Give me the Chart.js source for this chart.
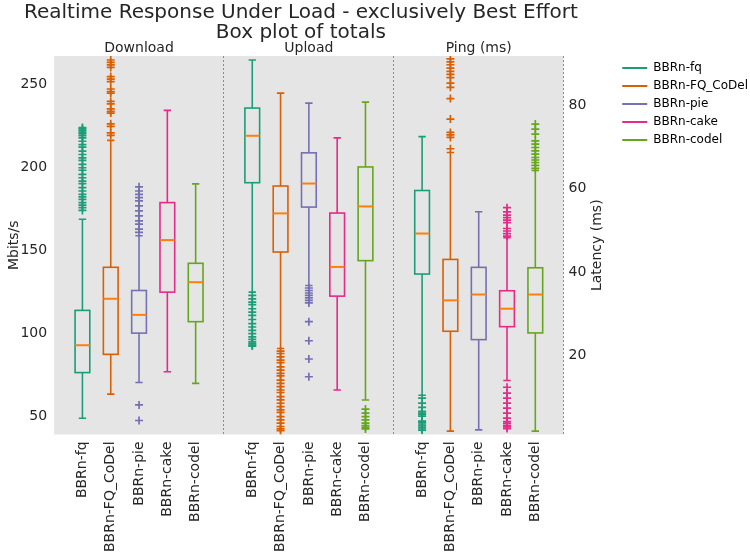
<!DOCTYPE html>
<html>
<head>
<meta charset="utf-8">
<script src="https://cdn.jsdelivr.net/npm/chart.js@4"></script>
<style>
  html, body { margin: 0; padding: 0; background: #fff; }
  #wrap { width: 750px; height: 553px; }
</style>
</head>
<body>
<div id="wrap"><canvas id="boxChart"></canvas></div>
<script>
const titleLines = ['Realtime Response Under Load - exclusively Best Effort', 'Box plot of totals'];
const schedulers = ['BBRn-fq', 'BBRn-FQ_CoDel', 'BBRn-pie', 'BBRn-cake', 'BBRn-codel'];
const panelTitles = ['Download', 'Upload', 'Ping (ms)'];

// box stats per scheduler: [low whisker, Q1, median, Q3, high whisker]
const downloadBoxes = [
  [49, 76.5, 93, 114, 169],
  [63.5, 87.5, 121, 140, 216.5],
  [70.5, 100.3, 111.3, 126, 159],
  [77, 125, 156.4, 179, 234.6],
  [70, 107.2, 131, 142.4, 190.3]
];
const uploadBoxes = [
  [125, 191, 219.3, 236, 265],
  [91, 149.2, 172.5, 189, 245],
  [129, 176.3, 190.5, 209, 239],
  [66, 122.6, 140.2, 172.7, 218],
  [60, 144, 176.7, 200.5, 239.6]
];
const pingBoxes = [
  [10.5, 39.5, 49.2, 59.5, 72.4],
  [1.9, 25.8, 33.2, 43, 68.6],
  [2.2, 23.8, 34.6, 41.1, 54.4],
  [14, 26.9, 31.2, 35.5, 48.2],
  [1.9, 25.4, 34.6, 41, 64.3]
];

// fliers
const downloadOutliers = [
  [174.3, 176, 177.5, 179, 181, 182.5, 184, 186, 188, 190.5, 192, 194, 196, 198.5, 200, 202, 204.5, 206, 208, 210, 212.5, 214, 216, 218, 219.3, 220.5, 221.5, 222.5, 223.5, 224.3],
  [219.5, 221, 225, 226.5, 233, 234, 235.5, 238.5, 240, 245, 246, 247.5, 252, 253.5, 255, 260.5, 262, 263.5, 265],
  [47.6, 57, 161, 163, 166, 168, 171, 174, 177, 180, 182, 184, 186, 188.5],
  [],
  []
];
const uploadOutliers = [
  [123, 121, 119, 117.5, 115, 113, 111, 108.5, 106, 104, 102, 100, 98, 96.5, 95, 94, 93, 92.5],
  [89.5, 88, 86, 84, 82.5, 80, 78, 76, 74.5, 72, 70, 68, 66, 64.5, 62, 60, 58, 56, 54, 52.5, 50, 48, 46, 44, 42.5, 41.5],
  [127.5, 126, 124.5, 123, 121.5, 120, 118.5, 107.2, 95.7, 84.7, 74],
  [],
  [54.5, 52, 50, 48, 46, 44.5, 43.5, 42.5]
];
const pingOutliers = [
  [9.8, 8.6, 7.6, 6.6, 6.2, 5.9, 5.5, 4.3, 4, 3.6, 3.2, 2.8, 2.4, 2.1],
  [69.5, 72.2, 72.8, 73.4, 76.6, 81.5, 84.2, 85.2, 86.5, 87.3, 88, 88.8, 89.6, 90.3, 91],
  [],
  [48.6, 49.2, 49.8, 50.4, 51.8, 52.4, 53, 53.6, 54.4, 55.4, 12.4, 11, 9.8, 8.6, 7.4, 6.2, 5, 4.2, 3.8, 3.3, 2.9, 2.5],
  [64.8, 65.5, 66.2, 66.8, 67.4, 68.2, 69, 69.8, 70.6, 71.4, 73, 74.2, 75.4]
];

const mbitTicks = [50, 100, 150, 200, 250];
const latencyTicks = [20, 40, 60, 80];

const colors = ['#1b9e77', '#d95f02', '#7570b3', '#e7298a', '#66a61e'];
const medianColor = '#ff7f0e';
const textColor = '#262626';

const panels = [
  { boxes: downloadBoxes, outliers: downloadOutliers, axis: 'y' },
  { boxes: uploadBoxes, outliers: uploadOutliers, axis: 'y' },
  { boxes: pingBoxes, outliers: pingOutliers, axis: 'y2' }
];
const slot = schedulers.length + 1;
const posOf = (p, i) => p * slot + i + 1;
const boxHalf = 0.26;
const titleFont = { family: 'DejaVu Sans', size: 20, weight: 'normal', lineHeight: 1.0 };
const titlePadding = { top: 3, bottom: 13 };

const datasets = [];
panels.forEach((panel, p) => {
  panel.outliers.forEach((vals, i) => {
    datasets.push({
      label: schedulers[i],
      yAxisID: panel.axis,
      data: vals.map(v => ({ x: posOf(p, i), y: v })),
      pointStyle: 'cross',
      pointRadius: 4,
      pointBorderWidth: 1.7,
      borderColor: colors[i],
      backgroundColor: colors[i]
    });
  });
});

const panelBackground = {
  id: 'panelBackground',
  beforeDraw(chart) {
    const { ctx, chartArea: a, scales: { x } } = chart;
    ctx.save();
    ctx.fillStyle = '#e5e5e5';
    ctx.fillRect(a.left, a.top, a.right - a.left, a.bottom - a.top);
    ctx.strokeStyle = '#8c8c8c';
    ctx.lineWidth = 1;
    ctx.setLineDash([2, 2]);
    for (let p = 1; p <= panels.length; p++) {
      const px = Math.round(x.getPixelForValue(p * slot)) - 0.5;
      ctx.beginPath();
      ctx.moveTo(px, a.top);
      ctx.lineTo(px, a.bottom);
      ctx.stroke();
    }
    ctx.restore();
  }
};

const boxes = {
  id: 'boxes',
  beforeDatasetsDraw(chart) {
    const { ctx, scales: { x } } = chart;
    ctx.save();
    panels.forEach((panel, p) => {
      const y = chart.scales[panel.axis];
      panel.boxes.forEach(([lo, q1, med, q3, hi], i) => {
        const c = x.getPixelForValue(posOf(p, i));
        const l = x.getPixelForValue(posOf(p, i) - boxHalf);
        const r = x.getPixelForValue(posOf(p, i) + boxHalf);
        const cl = x.getPixelForValue(posOf(p, i) - boxHalf / 2);
        const cr = x.getPixelForValue(posOf(p, i) + boxHalf / 2);
        const yLo = y.getPixelForValue(lo), yQ1 = y.getPixelForValue(q1);
        const yMed = y.getPixelForValue(med), yQ3 = y.getPixelForValue(q3);
        const yHi = y.getPixelForValue(hi);
        ctx.strokeStyle = colors[i];
        ctx.lineWidth = 1.6;
        ctx.beginPath();
        ctx.moveTo(c, yQ1); ctx.lineTo(c, yLo);
        ctx.moveTo(c, yQ3); ctx.lineTo(c, yHi);
        ctx.moveTo(cl, yLo); ctx.lineTo(cr, yLo);
        ctx.moveTo(cl, yHi); ctx.lineTo(cr, yHi);
        ctx.stroke();
        ctx.strokeRect(l, yQ3, r - l, yQ1 - yQ3);
        ctx.strokeStyle = medianColor;
        ctx.lineWidth = 2;
        ctx.beginPath();
        ctx.moveTo(l, yMed); ctx.lineTo(r, yMed);
        ctx.stroke();
      });
    });
    ctx.restore();
  },
  afterDraw(chart) {
    const { ctx, chartArea: a, scales: { x, y2 } } = chart;
    ctx.save();
    ctx.fillStyle = textColor;
    ctx.textAlign = 'center';
    ctx.textBaseline = 'middle';
    // figure title: the Chart.js title only reserves the space (it would squeeze line 1)
    ctx.font = titleFont.size + 'px "DejaVu Sans"';
    const lh = titleFont.size * titleFont.lineHeight;
    const tx = (a.left + a.right) / 2 - 8;
    titleLines.forEach((t, k) => {
      ctx.fillText(t, tx, chart.titleBlock.top + titlePadding.top + lh * (k + 0.5));
    });
    ctx.font = '14px "DejaVu Sans"';
    panelTitles.forEach((t, p) => {
      ctx.fillText(t, x.getPixelForValue(p * slot + slot / 2), a.top - 8);
    });
    // right axis title reads bottom-to-top like the left one
    ctx.translate(y2.left + 34, (a.top + a.bottom) / 2);
    ctx.rotate(-Math.PI / 2);
    ctx.fillText('Latency (ms)', 0, 0);
    ctx.restore();
  }
};

new Chart(document.getElementById('boxChart'), {
  type: 'scatter',
  data: { datasets },
  options: {
    responsive: true,
    maintainAspectRatio: false,
    animation: false,
    events: [],
    layout: { padding: { left: 2, right: -8, top: 0, bottom: -6 } },
    plugins: {
      tooltip: { enabled: false },
      title: {
        display: true,
        fullSize: false,
        text: titleLines,
        color: 'rgba(0,0,0,0)',
        font: titleFont,
        padding: titlePadding
      },
      legend: {
        position: 'right',
        align: 'start',
        fullSize: false,
        maxWidth: 160,
        labels: {
          color: textColor,
          font: { family: 'DejaVu Sans', size: 12 },
          boxWidth: 25,
          boxHeight: 2,
          padding: 6,
          generateLabels: () => schedulers.map((s, i) => ({
            text: s,
            fillStyle: colors[i],
            strokeStyle: colors[i],
            lineWidth: 0,
            datasetIndex: i
          }))
        }
      }
    },
    scales: {
      x: {
        type: 'linear',
        min: 0,
        max: panels.length * slot,
        grid: { display: false, drawTicks: false },
        border: { display: false },
        afterBuildTicks: axis => {
          axis.ticks = [];
          panels.forEach((panel, p) => schedulers.forEach((s, i) => axis.ticks.push({ value: posOf(p, i) })));
        },
        ticks: {
          color: textColor,
          font: { family: 'DejaVu Sans', size: 14 },
          minRotation: 90,
          maxRotation: 90,
          autoSkip: false,
          padding: 7,
          callback: v => schedulers[Math.round(v) % slot - 1]
        }
      },
      y: {
        position: 'left',
        min: 39.2,
        max: 267.4,
        grid: { display: false, drawTicks: false },
        border: { display: false },
        afterBuildTicks: axis => { axis.ticks = mbitTicks.map(v => ({ value: v })); },
        ticks: { color: textColor, font: { family: 'DejaVu Sans', size: 14 }, padding: 7 },
        title: {
          display: true,
          text: 'Mbits/s',
          color: textColor,
          font: { family: 'DejaVu Sans', size: 14 },
          padding: { top: 3.6, bottom: -9 }
        }
      },
      y2: {
        position: 'right',
        min: 1.1,
        max: 91.7,
        grid: { display: false, drawTicks: false },
        border: { display: false },
        afterBuildTicks: axis => { axis.ticks = latencyTicks.map(v => ({ value: v })); },
        ticks: { color: textColor, font: { family: 'DejaVu Sans', size: 14 }, padding: 5 },
        title: {
          display: true,
          text: 'Latency (ms)',
          color: 'rgba(0,0,0,0)',
          font: { family: 'DejaVu Sans', size: 14 },
          padding: { top: 4, bottom: 4 }
        }
      }
    }
  },
  plugins: [panelBackground, boxes]
});
</script>
</body>
</html>
